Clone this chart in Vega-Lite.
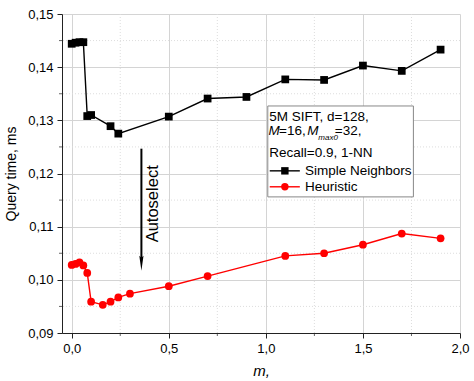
{
  "$schema": "https://vega.github.io/schema/vega-lite/v6.json",
  "width": 398,
  "height": 319,
  "autosize": "none",
  "padding": {"left": 62, "top": 14, "right": 14, "bottom": 48},
  "background": "white",
  "config": {
    "view": {"stroke": null},
    "font": "Liberation Sans",
    "axis": {
      "labelFont": "Liberation Sans",
      "titleFont": "Liberation Sans",
      "labelColor": "#000",
      "titleColor": "#000",
      "domainColor": "#222",
      "tickColor": "#222",
      "tickSize": 5,
      "labelFontSize": 13,
      "titleFontSize": 14,
      "titleFontWeight": "normal",
      "gridColor": "#d4d4d4",
      "gridWidth": 1,
      "labelFlush": false
    }
  },
  "datasets": {
    "series": [
      {"m": 0.0, "t": 0.1444, "s": "Simple Neighbors"},
      {"m": 0.02, "t": 0.1446, "s": "Simple Neighbors"},
      {"m": 0.04, "t": 0.1447, "s": "Simple Neighbors"},
      {"m": 0.06, "t": 0.1447, "s": "Simple Neighbors"},
      {"m": 0.08, "t": 0.1308, "s": "Simple Neighbors"},
      {"m": 0.1, "t": 0.131, "s": "Simple Neighbors"},
      {"m": 0.2, "t": 0.1289, "s": "Simple Neighbors"},
      {"m": 0.24, "t": 0.1275, "s": "Simple Neighbors"},
      {"m": 0.5, "t": 0.1307, "s": "Simple Neighbors"},
      {"m": 0.7, "t": 0.1341, "s": "Simple Neighbors"},
      {"m": 0.9, "t": 0.1344, "s": "Simple Neighbors"},
      {"m": 1.1, "t": 0.1377, "s": "Simple Neighbors"},
      {"m": 1.3, "t": 0.1376, "s": "Simple Neighbors"},
      {"m": 1.5, "t": 0.1403, "s": "Simple Neighbors"},
      {"m": 1.7, "t": 0.1393, "s": "Simple Neighbors"},
      {"m": 1.9, "t": 0.1433, "s": "Simple Neighbors"},
      {"m": 0.0, "t": 0.1028, "s": "Heuristic"},
      {"m": 0.02, "t": 0.103, "s": "Heuristic"},
      {"m": 0.04, "t": 0.1033, "s": "Heuristic"},
      {"m": 0.06, "t": 0.1027, "s": "Heuristic"},
      {"m": 0.08, "t": 0.1013, "s": "Heuristic"},
      {"m": 0.1, "t": 0.0959, "s": "Heuristic"},
      {"m": 0.16, "t": 0.0953, "s": "Heuristic"},
      {"m": 0.2, "t": 0.0959, "s": "Heuristic"},
      {"m": 0.24, "t": 0.0967, "s": "Heuristic"},
      {"m": 0.3, "t": 0.0974, "s": "Heuristic"},
      {"m": 0.5, "t": 0.0988, "s": "Heuristic"},
      {"m": 0.7, "t": 0.1007, "s": "Heuristic"},
      {"m": 1.1, "t": 0.1045, "s": "Heuristic"},
      {"m": 1.3, "t": 0.105, "s": "Heuristic"},
      {"m": 1.5, "t": 0.1066, "s": "Heuristic"},
      {"m": 1.7, "t": 0.1087, "s": "Heuristic"},
      {"m": 1.9, "t": 0.1078, "s": "Heuristic"}
    ],
    "minorx": [{"g": 0.25}, {"g": 0.75}, {"g": 1.25}, {"g": 1.75}],
    "minory": [{"g": 0.095}, {"g": 0.105}, {"g": 0.115}, {"g": 0.125}, {"g": 0.135}, {"g": 0.145}],
    "legnormal": [
      {"t": "5M SIFT, d=128,", "lx": 1.018, "ly": 0.1307},
      {"t": "=16,", "lx": 1.068, "ly": 0.1279},
      {"t": "=32,", "lx": 1.355, "ly": 0.1279},
      {"t": "Recall=0.9, 1-NN", "lx": 1.018, "ly": 0.1239},
      {"t": "Simple Neighbors", "lx": 1.201, "ly": 0.1205},
      {"t": "Heuristic", "lx": 1.201, "ly": 0.1175}
    ],
    "legitalic": [
      {"t": "M", "lx": 1.013, "ly": 0.1279},
      {"t": "M", "lx": 1.213, "ly": 0.1279}
    ],
    "legsub": [
      {"t": "max0", "lx": 1.27, "ly": 0.1266}
    ],
    "legsym": [
      {"s": "Simple Neighbors", "a": 1.02, "b": 1.175, "c": 1.098, "ly": 0.1205},
      {"s": "Heuristic", "a": 1.02, "b": 1.175, "c": 1.098, "ly": 0.1175}
    ],
    "arrow": [{"ax": 0.359, "y1": 0.12467, "y2": 0.1039, "yh": 0.1031}],
    "note": [{"t": "Autoselect", "nx": 0.419, "ny": 0.1143}]
  },
  "layer": [
    {
      "data": {"name": "minorx"},
      "mark": {"type": "rule", "color": "#dddddd", "strokeDash": [1, 2], "strokeWidth": 1},
      "encoding": {
        "x": {"field": "g", "type": "quantitative", "scale": {"domain": [-0.05, 2.0], "nice": false, "zero": false},
          "axis": {"values": [0, 0.5, 1, 1.5, 2], "labelExpr": "replace(format(datum.value, '.1f'), '.', ',')", "title": "m,", "titleFontStyle": "italic", "titleFontSize": 15, "titlePadding": 8, "labelPadding": 4, "grid": true}}
      }
    },
    {
      "data": {"name": "minory"},
      "mark": {"type": "rule", "color": "#dddddd", "strokeDash": [1, 2], "strokeWidth": 1},
      "encoding": {
        "y": {"field": "g", "type": "quantitative", "scale": {"domain": [0.09, 0.15], "nice": false, "zero": false},
          "axis": {"values": [0.09, 0.1, 0.11, 0.12, 0.13, 0.14, 0.15], "labelExpr": "replace(format(datum.value, '.2f'), '.', ',')", "title": "Query time, ms", "titlePadding": 9, "labelPadding": 4, "grid": true}}
      }
    },
    {
      "data": {"name": "minorx"},
      "mark": {"type": "tick", "orient": "vertical", "color": "#222", "size": 3, "thickness": 1, "yOffset": 1.5},
      "encoding": {
        "x": {"field": "g", "type": "quantitative"},
        "y": {"datum": 0.09}
      }
    },
    {
      "data": {"name": "minory"},
      "mark": {"type": "tick", "orient": "horizontal", "color": "#222", "size": 3, "thickness": 1, "xOffset": -1.5},
      "encoding": {
        "y": {"field": "g", "type": "quantitative"},
        "x": {"datum": -0.05}
      }
    },
    {
      "data": {"name": "series"},
      "mark": {"type": "line", "strokeWidth": 1.4},
      "encoding": {
        "x": {"field": "m", "type": "quantitative"},
        "y": {"field": "t", "type": "quantitative"},
        "color": {"field": "s", "type": "nominal", "scale": {"domain": ["Simple Neighbors", "Heuristic"], "range": ["#000000", "#ff0000"]}, "legend": null},
        "detail": {"field": "s"}
      }
    },
    {
      "data": {"name": "series"},
      "mark": {"type": "point", "filled": true, "opacity": 1, "size": 60},
      "encoding": {
        "x": {"field": "m", "type": "quantitative"},
        "y": {"field": "t", "type": "quantitative"},
        "color": {"field": "s", "type": "nominal", "legend": null},
        "shape": {"field": "s", "type": "nominal", "scale": {"domain": ["Simple Neighbors", "Heuristic"], "range": ["square", "circle"]}, "legend": null}
      }
    },
    {
      "data": {"name": "arrow"},
      "mark": {"type": "rule", "color": "#000", "strokeWidth": 2},
      "encoding": {
        "x": {"field": "ax", "type": "quantitative"},
        "y": {"field": "y1", "type": "quantitative"},
        "y2": {"field": "y2"}
      }
    },
    {
      "data": {"name": "arrow"},
      "mark": {"type": "point", "shape": "M -0.28 -1 L 0 -0.75 L 0.28 -1 L 0 1 Z", "filled": true, "color": "#000", "opacity": 1, "size": 225},
      "encoding": {
        "x": {"field": "ax", "type": "quantitative"},
        "y": {"field": "yh", "type": "quantitative"}
      }
    },
    {
      "data": {"name": "note"},
      "mark": {"type": "text", "angle": 270, "align": "center", "baseline": "middle", "fontSize": 16.5, "font": "Liberation Sans", "color": "#000"},
      "encoding": {
        "x": {"field": "nx", "type": "quantitative"},
        "y": {"field": "ny", "type": "quantitative"},
        "text": {"field": "t"}
      }
    },
    {
      "data": {"values": [{}]},
      "mark": {"type": "rect", "fill": "white", "stroke": "#888888", "strokeWidth": 1},
      "encoding": {
        "x": {"datum": 1.01},
        "x2": {"datum": 1.76},
        "y": {"datum": 0.1156},
        "y2": {"datum": 0.1327}
      }
    },
    {
      "data": {"name": "legnormal"},
      "mark": {"type": "text", "align": "left", "baseline": "middle", "fontSize": 13.5, "font": "Liberation Sans", "color": "#000"},
      "encoding": {
        "x": {"field": "lx", "type": "quantitative"},
        "y": {"field": "ly", "type": "quantitative"},
        "text": {"field": "t"}
      }
    },
    {
      "data": {"name": "legitalic"},
      "mark": {"type": "text", "align": "left", "baseline": "middle", "fontSize": 13.5, "fontStyle": "italic", "font": "Liberation Sans", "color": "#000"},
      "encoding": {
        "x": {"field": "lx", "type": "quantitative"},
        "y": {"field": "ly", "type": "quantitative"},
        "text": {"field": "t"}
      }
    },
    {
      "data": {"name": "legsub"},
      "mark": {"type": "text", "align": "left", "baseline": "middle", "fontSize": 8, "fontStyle": "italic", "font": "Liberation Sans", "color": "#000"},
      "encoding": {
        "x": {"field": "lx", "type": "quantitative"},
        "y": {"field": "ly", "type": "quantitative"},
        "text": {"field": "t"}
      }
    },
    {
      "data": {"name": "legsym"},
      "mark": {"type": "rule", "strokeWidth": 1.4},
      "encoding": {
        "x": {"field": "a", "type": "quantitative"},
        "x2": {"field": "b"},
        "y": {"field": "ly", "type": "quantitative"},
        "color": {"field": "s", "type": "nominal", "legend": null}
      }
    },
    {
      "data": {"name": "legsym"},
      "mark": {"type": "point", "filled": true, "opacity": 1, "size": 55},
      "encoding": {
        "x": {"field": "c", "type": "quantitative"},
        "y": {"field": "ly", "type": "quantitative"},
        "color": {"field": "s", "type": "nominal", "legend": null},
        "shape": {"field": "s", "type": "nominal", "legend": null}
      }
    }
  ]
}
